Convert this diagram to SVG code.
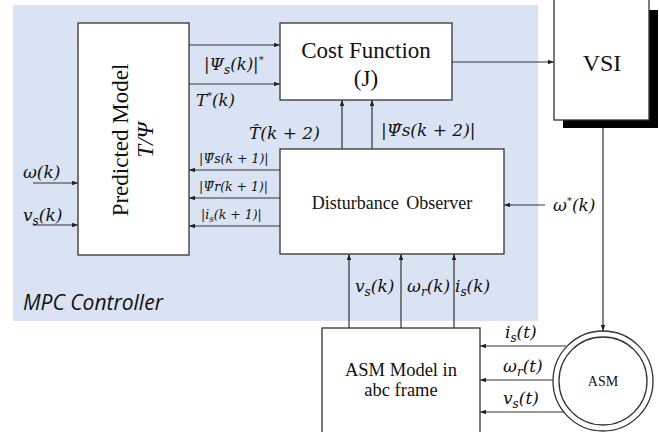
<svg xmlns="http://www.w3.org/2000/svg" width="659" height="432" viewBox="0 0 659 432">
<defs>
<marker id="ah" viewBox="0 0 8 6" refX="8" refY="3" markerWidth="6" markerHeight="4.5" orient="auto" markerUnits="userSpaceOnUse">
<path d="M0,0 L8,3 L0,6 z" fill="#222"/>
</marker>
<style>
.box{fill:#fff;stroke:#333;stroke-width:1.3}
.ln{stroke:#333;stroke-width:1.2;fill:none}
.ar{stroke:#333;stroke-width:1.2;fill:none;marker-end:url(#ah)}
.t{font-family:"Liberation Serif","Times New Roman",serif;fill:#111}
.m{font-family:"DejaVu Serif","Liberation Serif",serif;font-style:italic;fill:#111}
.mu{font-family:"DejaVu Serif","Liberation Serif",serif;fill:#111}
</style>
</defs>
<rect x="0" y="0" width="659" height="432" fill="#fff"/>
<rect x="13" y="5" width="525" height="316" fill="#dae3f3"/>
<text x="23" y="310" font-family="'Open Sans','Liberation Sans',sans-serif" font-style="italic" font-size="21" fill="#111">MPC Controller</text>

<g id="connectors">
<line class="ar" x1="189" y1="45" x2="280" y2="45"/>
<line class="ar" x1="189" y1="84" x2="280" y2="84"/>
<line class="ar" x1="280" y1="170" x2="189" y2="170"/>
<line class="ar" x1="280" y1="198" x2="189" y2="198"/>
<line class="ar" x1="280" y1="226" x2="189" y2="226"/>
<line class="ar" x1="33" y1="183" x2="78" y2="183"/>
<line class="ar" x1="33" y1="225" x2="78" y2="225"/>
<line class="ar" x1="342" y1="149" x2="342" y2="100"/>
<line class="ar" x1="372" y1="149" x2="372" y2="100"/>
<line class="ar" x1="452" y1="62" x2="554" y2="62"/>
<line class="ar" x1="603" y1="127" x2="603" y2="331"/>
<line class="ar" x1="545" y1="205" x2="504" y2="205"/>
<line class="ar" x1="349" y1="328" x2="349" y2="254"/>
<line class="ar" x1="401" y1="328" x2="401" y2="254"/>
<line class="ar" x1="454" y1="328" x2="454" y2="254"/>
<line class="ar" x1="566" y1="346" x2="480" y2="346"/>
<line class="ar" x1="554" y1="380" x2="480" y2="380"/>
<line class="ar" x1="566" y1="412" x2="480" y2="412"/>
</g>

<g id="labels">
<text class="m" x="204" y="70" font-size="16.5">|Ψ<tspan font-size="12" dy="4">s</tspan><tspan dy="-4">(k)|</tspan><tspan font-size="10" dy="-7">*</tspan></text>
<text class="m" x="196" y="106" font-size="16.5">T<tspan font-size="10" dy="-7">*</tspan><tspan dy="7">(k)</tspan></text>
<text class="m" x="249" y="139" font-size="17">T̂<tspan class="mu">(</tspan>k<tspan class="mu"> + 2)</tspan></text>
<text class="m" x="381" y="136" font-size="17">|Ψ̂s(k<tspan class="mu"> + 2)</tspan>|</text>
<text class="m" x="199" y="163" font-size="12.5">|Ψ̂s(k<tspan class="mu"> + 1)</tspan>|</text>
<text class="m" x="199" y="191" font-size="12.5">|Ψ̂r(k<tspan class="mu"> + 1)</tspan>|</text>
<text class="m" x="201" y="219" font-size="12.5">|i<tspan font-size="9" dy="3">s</tspan><tspan dy="-3">(k</tspan><tspan class="mu"> + 1)</tspan>|</text>
<text class="m" x="23" y="178" font-size="17">ω(k)</text>
<text class="m" x="23" y="221" font-size="17">v<tspan font-size="12" dy="4">s</tspan><tspan dy="-4">(k)</tspan></text>
<text class="m" x="553" y="211" font-size="17">ω<tspan font-size="10" dy="-7">*</tspan><tspan dy="7">(k)</tspan></text>
<text class="m" x="355" y="292" font-size="17">v<tspan font-size="12" dy="4">s</tspan><tspan dy="-4">(k)</tspan></text>
<text class="m" x="407" y="292" font-size="17">ω<tspan font-size="12" dy="4">r</tspan><tspan dy="-4">(k)</tspan></text>
<text class="m" x="455" y="292" font-size="17">i<tspan font-size="12" dy="4">s</tspan><tspan dy="-4">(k)</tspan></text>
<text class="m" x="505" y="338" font-size="17">i<tspan font-size="12" dy="4">s</tspan><tspan dy="-4">(t)</tspan></text>
<text class="m" x="503" y="372" font-size="17">ω<tspan font-size="12" dy="4">r</tspan><tspan dy="-4">(t)</tspan></text>
<text class="m" x="503" y="404" font-size="17">v<tspan font-size="12" dy="4">s</tspan><tspan dy="-4">(t)</tspan></text>
</g>

<g id="predicted-model">
<rect class="box" x="78" y="23" width="111" height="232"/>
<text class="t" transform="translate(128,140) rotate(-90)" text-anchor="middle" font-size="23">Predicted Model</text>
<text class="t" transform="translate(153,140) rotate(-90)" text-anchor="middle" font-size="23" font-style="italic">T/Ψ</text>
</g>

<g id="cost-function">
<rect class="box" x="280" y="23" width="172" height="77"/>
<text class="t" x="366" y="58" text-anchor="middle" font-size="23">Cost Function</text>
<text class="t" x="366" y="86" text-anchor="middle" font-size="23">(J)</text>
</g>

<g id="disturbance-observer">
<rect class="box" x="280" y="149" width="224" height="105"/>
<text class="t" x="392" y="209" text-anchor="middle" font-size="18" word-spacing="3">Disturbance Observer</text>
</g>

<g id="vsi">
<rect x="563" y="10" width="95" height="118" fill="#000"/>
<rect class="box" x="554" y="-5" width="95" height="125"/>
<text class="t" x="602" y="71" text-anchor="middle" font-size="24">VSI</text>
</g>

<g id="asm-model">
<rect class="box" x="322" y="328" width="158" height="110"/>
<text class="t" x="401" y="376" text-anchor="middle" font-size="18.5">ASM Model in</text>
<text class="t" x="401" y="396" text-anchor="middle" font-size="18.5">abc frame</text>
</g>

<g id="asm">
<circle cx="603" cy="381" r="50" fill="#fff" stroke="#333" stroke-width="1.3"/>
<circle cx="603" cy="381" r="44" fill="#fff" stroke="#333" stroke-width="1.3"/>
<text class="t" x="603" y="386" text-anchor="middle" font-size="14">ASM</text>
</g>
</svg>
